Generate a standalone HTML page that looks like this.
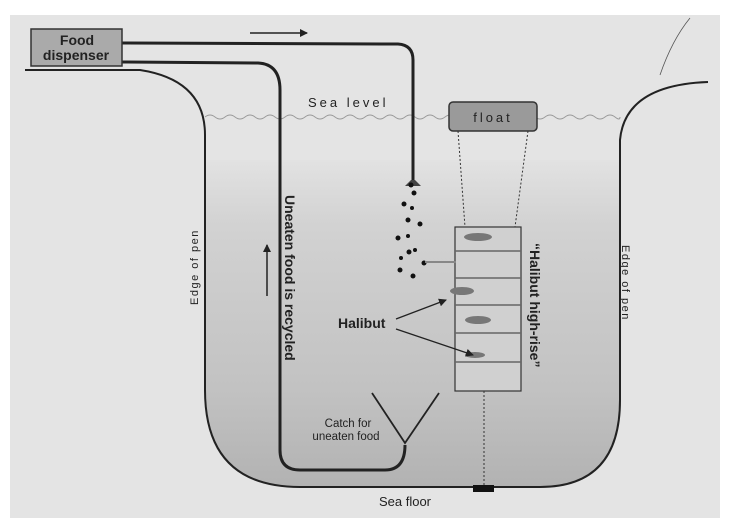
<!DOCTYPE html>
<html><head><meta charset="utf-8"><style>
body{margin:0;background:#fff;}
svg{display:block}
text{font-family:"Liberation Sans",sans-serif;fill:#222}
</style></head><body>
<svg width="733" height="532" viewBox="0 0 733 532" xmlns="http://www.w3.org/2000/svg">
<defs>
<linearGradient id="w" x1="0" y1="0" x2="0" y2="1">
<stop offset="0" stop-color="#e2e2e2"/>
<stop offset="0.2" stop-color="#d2d2d2"/>
<stop offset="0.7" stop-color="#c2c2c2"/>
<stop offset="1" stop-color="#b2b2b2"/>
</linearGradient>
<marker id="a" markerWidth="8" markerHeight="8" refX="7" refY="4" orient="auto" markerUnits="userSpaceOnUse"><path d="M0,0 L8,4 L0,8z" fill="#222"/></marker>
</defs>
<rect x="10" y="15" width="710" height="503" fill="#e4e4e4"/>
<path d="M205,160 L205,390 Q205,487 300,487 L540,487 Q620,487 620,400 L620,160 Z" fill="url(#w)"/>
<path d="M25,70 L140,70 Q205,80 205,135 L205,390 Q205,487 300,487 L540,487 Q620,487 620,400 L620,140 Q625,85 708,82" fill="none" stroke="#222" stroke-width="2"/>
<path d="M690,18 Q672,40 660,75" fill="none" stroke="#555" stroke-width="0.8"/>
<path d="M205,117 q5,-4 10,0 t10,0 t10,0 t10,0 t10,0 t10,0 t10,0 t10,0 t10,0 t10,0 t10,0 t10,0 t10,0 t10,0 t10,0 t10,0 t10,0 t10,0 t10,0 t10,0 t10,0 t10,0 t10,0 t10,0 t10,0 t10,0 t10,0 t10,0 t10,0 t10,0 t10,0 t10,0 t10,0 t10,0 t10,0 t10,0 t10,0 t10,0 t10,0 t10,0 t10,0 t5,0" fill="none" stroke="#999" stroke-width="1"/>
<text x="308" y="107" font-size="13" letter-spacing="3">Sea level</text>
<path d="M122,43 L398,44 Q413,45 413,60 L413,180" fill="none" stroke="#222" stroke-width="3"/>
<path d="M411,180 L405,186 L421,186 L415,180Z" fill="#444"/>
<path d="M122,62 L258,63 Q280,64 280,90 L280,450 Q280,470 300,470 L385,470 Q405,470 405,445" fill="none" stroke="#222" stroke-width="3"/>
<path d="M372,393 L405,443 L439,393" fill="none" stroke="#222" stroke-width="1.8"/>
<rect x="31" y="29" width="91" height="37" fill="#aaa" stroke="#333" stroke-width="1.5"/>
<text x="77" y="45" font-size="14" font-weight="bold" text-anchor="middle">Food</text>
<text x="76" y="60" font-size="14" font-weight="bold" text-anchor="middle">dispenser</text>
<line x1="250" y1="33" x2="307" y2="33" stroke="#222" stroke-width="1.5" marker-end="url(#a)"/>
<rect x="449" y="102" width="88" height="29" rx="4" fill="#9a9a9a" stroke="#333" stroke-width="1.5"/>
<text x="493" y="122" font-size="13" text-anchor="middle" letter-spacing="3" fill="#555">float</text>
<line x1="458" y1="131" x2="465" y2="227" stroke="#333" stroke-dasharray="2,2"/>
<line x1="528" y1="131" x2="515" y2="227" stroke="#333" stroke-dasharray="2,2"/>
<rect x="455" y="227" width="66" height="164" fill="#d0d0d0" stroke="#333" stroke-width="1.2"/>
<g stroke="#666" stroke-width="1.5"><line x1="455" y1="251" x2="521" y2="251"/><line x1="455" y1="278" x2="521" y2="278"/><line x1="455" y1="305" x2="521" y2="305"/><line x1="455" y1="333" x2="521" y2="333"/><line x1="455" y1="362" x2="521" y2="362"/></g>
<g fill="#777"><ellipse cx="478" cy="237" rx="14" ry="4"/><ellipse cx="462" cy="291" rx="12" ry="4"/><ellipse cx="478" cy="320" rx="13" ry="4"/><ellipse cx="475" cy="355" rx="10" ry="3"/></g>
<line x1="484" y1="391" x2="484" y2="485" stroke="#333" stroke-dasharray="2,2"/>
<rect x="473" y="485" width="21" height="7" fill="#111"/>
<g fill="#111"><circle cx="411" cy="185" r="2.5"/><circle cx="414" cy="193" r="2.5"/><circle cx="404" cy="204" r="2.5"/><circle cx="412" cy="208" r="2"/><circle cx="408" cy="220" r="2.5"/><circle cx="420" cy="224" r="2.5"/><circle cx="398" cy="238" r="2.5"/><circle cx="408" cy="236" r="2"/><circle cx="415" cy="250" r="2"/><circle cx="401" cy="258" r="2"/><circle cx="409" cy="252" r="2.5"/><circle cx="424" cy="263" r="2.5"/><circle cx="400" cy="270" r="2.5"/><circle cx="413" cy="276" r="2.5"/></g>
<line x1="425" y1="262" x2="456" y2="262" stroke="#888" stroke-width="2"/>
<text x="338" y="328" font-size="14" font-weight="bold">Halibut</text>
<line x1="396" y1="319" x2="446" y2="300" stroke="#222" stroke-width="1.3" marker-end="url(#a)"/>
<line x1="396" y1="329" x2="473" y2="355" stroke="#222" stroke-width="1.3" marker-end="url(#a)"/>
<text transform="translate(285,195) rotate(90)" font-size="14" font-weight="bold">Uneaten food is recycled</text>
<line x1="267" y1="296" x2="267" y2="245" stroke="#222" stroke-width="1.5" marker-end="url(#a)"/>
<text transform="translate(530,243) rotate(90)" font-size="14" font-weight="bold">“Halibut high-rise”</text>
<text transform="translate(198,305) rotate(-90)" font-size="11" letter-spacing="1.5">Edge of pen</text>
<text transform="translate(622,245) rotate(90)" font-size="11" letter-spacing="1.5">Edge of pen</text>
<text x="348" y="427" font-size="11.5" text-anchor="middle">Catch for</text>
<text x="346" y="440" font-size="11.5" text-anchor="middle">uneaten food</text>
<text x="405" y="506" font-size="13" text-anchor="middle">Sea floor</text>
</svg>
</body></html>
